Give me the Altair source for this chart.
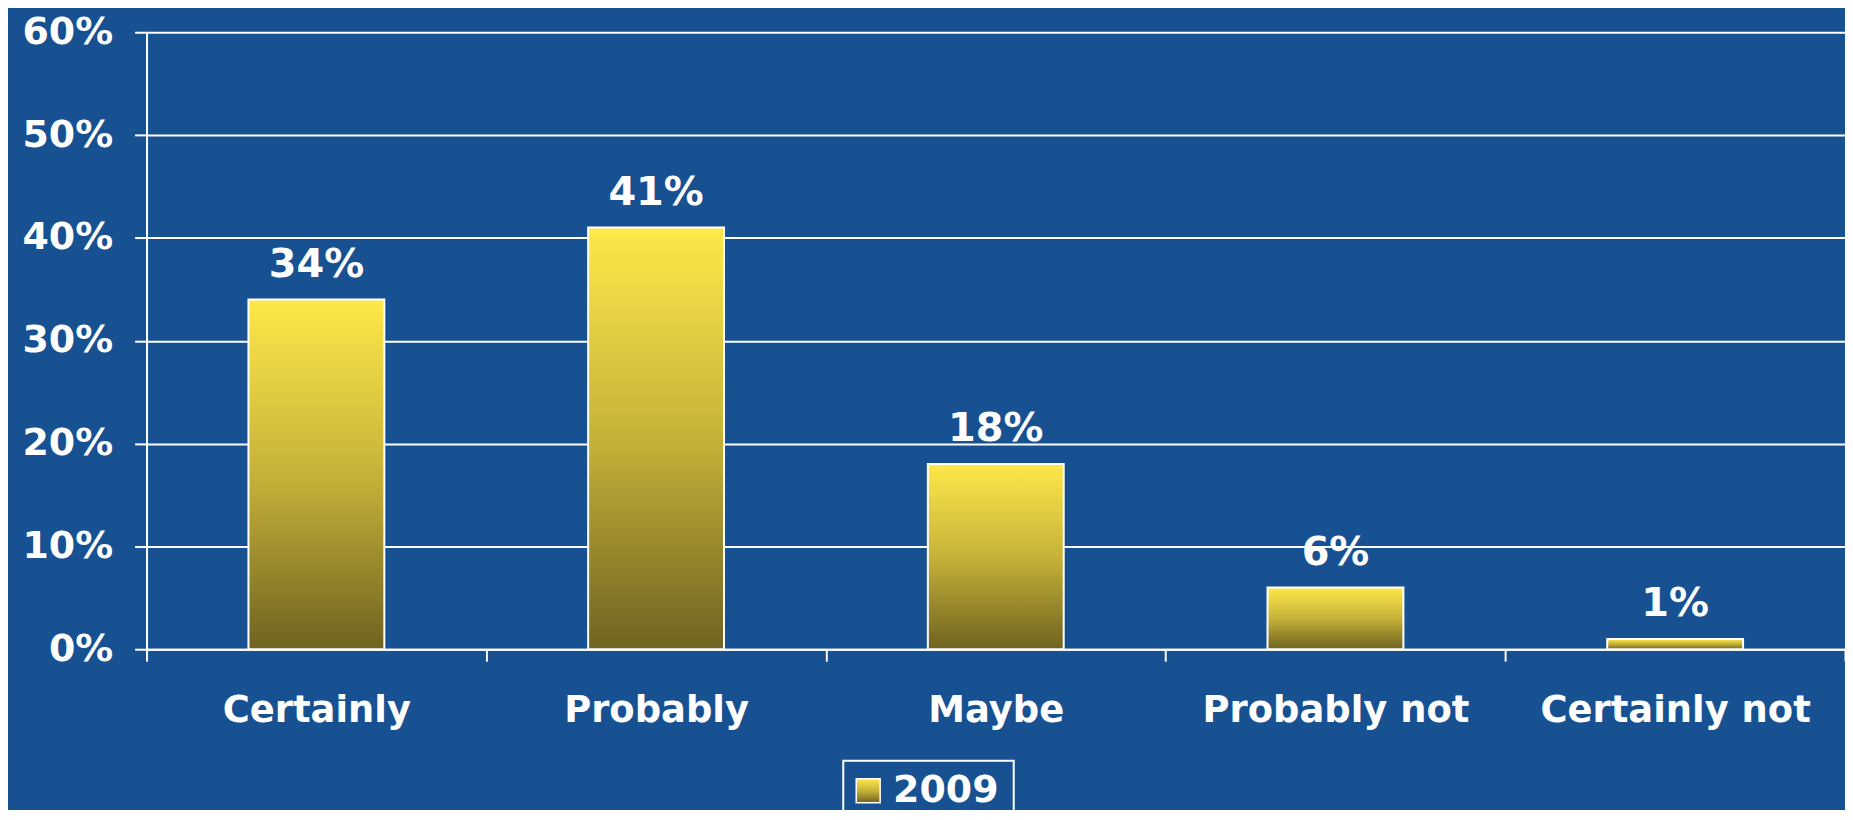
import altair as alt
import pandas as pd

categories = ["Certainly", "Probably", "Maybe", "Probably not", "Certainly not"]
values = [0.34, 0.41, 0.18, 0.06, 0.01]
labels = ["34%", "41%", "18%", "6%", "1%"]
series_name = "2009"
y_ticks = [0, 0.1, 0.2, 0.3, 0.4, 0.5, 0.6]

BG = "#175192"
FONT = "DejaVu Sans"

df = pd.DataFrame({"cat": categories, "value": values, "label": labels})

grad = alt.Gradient(
    gradient="linear",
    stops=[
        alt.GradientStop(color="#FFE84A", offset=0),
        alt.GradientStop(color="#C6B239", offset=0.5),
        alt.GradientStop(color="#6F6321", offset=1),
    ],
    x1=0, x2=0, y1=0, y2=1,
)

TOP = 23
W, H = 1704, 642 - TOP

x_enc = alt.X(
    "cat:N",
    sort=categories,
    scale=alt.Scale(paddingInner=0, paddingOuter=0),
    axis=alt.Axis(
        title=None, labelAngle=0, tickBand="extent", tickSize=12, tickWidth=2,
        tickColor="white", domainColor="white", domainWidth=2,
        labelColor="white", labelFont=FONT, labelFontWeight="bold",
        labelFontSize=37, labelPadding=32, labelLimit=0, grid=False,
    ),
)
y_enc = alt.Y(
    "value:Q",
    scale=alt.Scale(domain=[0, 0.6], nice=False),
    axis=alt.Axis(
        title=None, values=y_ticks, format=".0%", tickSize=12, tickWidth=2,
        tickColor="white", domainColor="white", domainWidth=2,
        grid=True, gridColor="white", gridWidth=2,
        labelColor="white", labelFont=FONT, labelFontWeight="bold",
        labelFontSize=38, labelPadding=22,
    ),
)

bars = alt.Chart(df).mark_bar(
    fill=grad, stroke="white", strokeWidth=2, width=alt.RelativeBandSize(0.4)
).encode(x=x_enc, y=y_enc)

text = alt.Chart(df).mark_text(
    dy=-23, baseline="alphabetic", fontSize=40, fontWeight="bold",
    font=FONT, color="white",
).encode(x=alt.X("cat:N", sort=categories), y="value:Q", text="label:N")

OFF = 25 - 8 - TOP
leg_df = pd.DataFrame({"series": [series_name]})
leg_box = alt.Chart(leg_df).mark_rect(fill=BG, stroke="white", strokeWidth=2).encode(
    x=alt.value(699), x2=alt.value(870), y=alt.value(737 + OFF), y2=alt.value(800)
)
leg_sym = alt.Chart(leg_df).mark_rect(fill=grad, stroke="white", strokeWidth=1.5).encode(
    x=alt.value(712), x2=alt.value(736), y=alt.value(755 + OFF), y2=alt.value(779 + OFF)
)
leg_txt = alt.Chart(leg_df).mark_text(
    align="left", baseline="middle", fontSize=38, fontWeight="bold",
    font=FONT, color="white",
).encode(x=alt.value(749), y=alt.value(767 + OFF), text="series:N")

chart = alt.layer(bars, text, leg_box, leg_sym, leg_txt).properties(
    width=W, height=H,
    autosize=alt.AutoSizeParams(type="none"),
    padding={"left": 139, "top": TOP, "right": 0, "bottom": 160},
    background=BG,
).configure_view(stroke=None)

chart.save("out.html", embed_options={"renderer": "svg", "actions": False})
